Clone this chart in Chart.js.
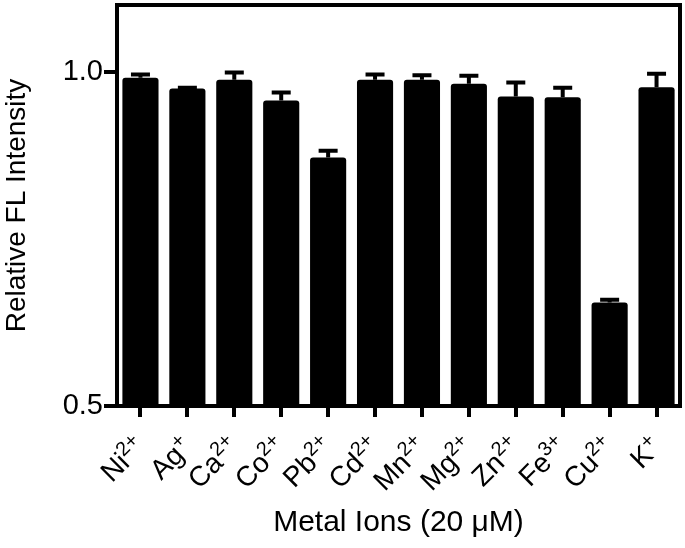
<!DOCTYPE html>
<html>
<head>
<meta charset="utf-8">
<script src="https://cdn.jsdelivr.net/npm/chart.js@4/dist/chart.umd.min.js"></script>
<style>
  html, body { margin: 0; padding: 0; background: #fff; }
  #wrap { width: 685px; height: 548px; position: relative; }
</style>
</head>
<body>
<div id="wrap"><canvas id="chart"></canvas></div>
<script>
const ions = ["Ni²⁺", "Ag⁺", "Ca²⁺", "Co²⁺", "Pb²⁺", "Cd²⁺", "Mn²⁺", "Mg²⁺", "Zn²⁺", "Fe³⁺", "Cu²⁺", "K⁺"];
const intensity = [0.991, 0.975, 0.988, 0.957, 0.872, 0.988, 0.988, 0.982, 0.963, 0.962, 0.655, 0.977];
const errors = [0.005, 0.001, 0.011, 0.012, 0.010, 0.008, 0.007, 0.012, 0.021, 0.014, 0.004, 0.020];
const yTicks = [0.5, 1.0];

const font = "'Liberation Sans', Arial, sans-serif";
const supChars = { "²": "2", "³": "3", "⁺": "+" };

// upward error bars drawn from the y scale
const errorBars = {
  id: "errorBars",
  afterDatasetsDraw(chart) {
    const ctx = chart.ctx;
    const y = chart.scales.y;
    const meta = chart.getDatasetMeta(0);
    ctx.save();
    ctx.strokeStyle = "#000";
    ctx.lineWidth = 4;
    meta.data.forEach((bar, i) => {
      const top = y.getPixelForValue(intensity[i] + errors[i]);
      ctx.beginPath();
      ctx.moveTo(bar.x, bar.y);
      ctx.lineTo(bar.x, top);
      ctx.moveTo(bar.x - 9.5, top);
      ctx.lineTo(bar.x + 9.5, top);
      ctx.stroke();
    });
    ctx.restore();
  }
};

// top and right sides of the frame
const frame = {
  id: "frame",
  afterDraw(chart) {
    const { left, right, top, bottom } = chart.chartArea;
    const ctx = chart.ctx;
    ctx.save();
    ctx.strokeStyle = "#000";
    ctx.lineWidth = 4;
    ctx.beginPath();
    ctx.moveTo(left - 2, top);
    ctx.lineTo(right, top);
    ctx.lineTo(right, bottom + 2);
    ctx.stroke();
    ctx.restore();
  }
};

// rotated category labels with real superscript charges
const ionLabels = {
  id: "ionLabels",
  afterDraw(chart) {
    const ctx = chart.ctx;
    const x = chart.scales.x;
    const y0 = chart.chartArea.bottom + 37;
    ctx.save();
    ctx.fillStyle = "#000";
    ctx.textBaseline = "middle";
    chart.data.labels.forEach((label, i) => {
      let base = "", sup = "";
      for (const ch of label) {
        if (supChars[ch]) sup += supChars[ch]; else base += ch;
      }
      ctx.save();
      ctx.translate(x.getPixelForTick(i) + 1, y0);
      ctx.rotate(-Math.PI / 4);
      ctx.font = "20px " + font;
      const w = ctx.measureText(sup).width;
      ctx.textAlign = "left";
      ctx.fillText(sup, -w, -8);
      ctx.font = "28px " + font;
      ctx.textAlign = "right";
      ctx.fillText(base, -w, 0);
      ctx.restore();
    });
    ctx.restore();
  }
};

new Chart(document.getElementById("chart"), {
  type: "bar",
  data: {
    labels: ions,
    datasets: [{
      data: intensity,
      backgroundColor: "#000",
      borderRadius: 3,
      barPercentage: 0.77,
      categoryPercentage: 1
    }]
  },
  options: {
    responsive: true,
    maintainAspectRatio: false,
    animation: false,
    layout: { padding: { top: 5, right: 5, left: 0, bottom: 0 } },
    plugins: { legend: { display: false }, tooltip: { enabled: false } },
    scales: {
      x: {
        afterFit: (s) => { s.height = 142; s.paddingLeft = 0; s.paddingRight = 0; },
        grid: { drawOnChartArea: false, offset: false, tickLength: 11, lineWidth: 4, color: "#000" },
        border: { display: true, width: 4, color: "#000" },
        ticks: { display: false, autoSkip: false },
        title: {
          display: true,
          text: "Metal Ions (20 μM)",
          color: "#000",
          font: { family: font, size: 30 },
          padding: { top: 0, bottom: 7 }
        }
      },
      y: {
        min: 0.5,
        max: 1.1,
        afterFit: (s) => { s.width = 117; s.paddingTop = 0; s.paddingBottom = 0; },
        afterBuildTicks: (s) => { s.ticks = yTicks.map((v) => ({ value: v })); },
        grid: { drawOnChartArea: false, tickLength: 13, lineWidth: 4, color: "#000" },
        border: { display: true, width: 4, color: "#000" },
        ticks: {
          color: "#000",
          font: { family: font, size: 29 },
          padding: 1,
          callback: (v) => v.toFixed(1)
        },
        title: {
          display: true,
          text: "Relative FL Intensity",
          color: "#000",
          font: { family: font, size: 28 },
          padding: { top: 0, bottom: 0 }
        }
      }
    }
  },
  plugins: [errorBars, frame, ionLabels]
});
</script>
</body>
</html>
